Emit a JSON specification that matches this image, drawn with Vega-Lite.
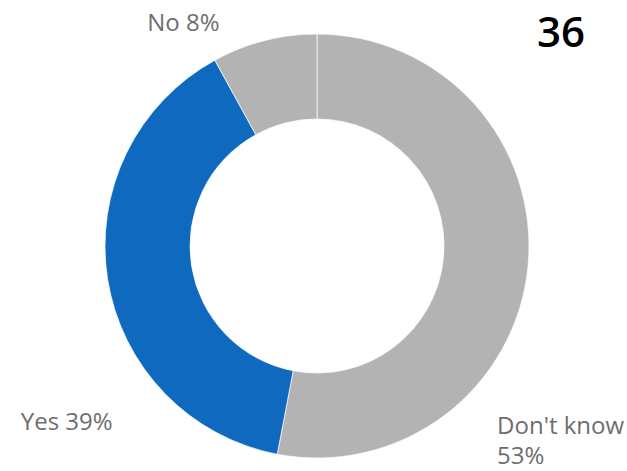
{
  "$schema": "https://vega.github.io/schema/vega-lite/v6.json",
  "width": 620,
  "height": 450,
  "autosize": {"type": "none"},
  "padding": {"left": 7, "top": 21, "right": 0, "bottom": 0},
  "background": "white",
  "title": {
    "text": "36",
    "anchor": "end",
    "frame": "group",
    "font": "Open Sans",
    "fontSize": 42,
    "fontWeight": 600,
    "color": "#000000",
    "baseline": "alphabetic",
    "dx": -42,
    "dy": 77,
    "offset": 0
  },
  "data": {
    "values": [
      {"answer": "Don't know", "pct": 53, "label": "Don't know\n53%", "order": 1},
      {"answer": "Yes", "pct": 39, "label": "Yes 39%", "order": 2},
      {"answer": "No", "pct": 8, "label": "No 8%", "order": 3}
    ]
  },
  "encoding": {
    "theta": {"field": "pct", "type": "quantitative", "stack": true},
    "order": {"field": "order", "type": "quantitative"}
  },
  "layer": [
    {
      "mark": {"type": "arc", "innerRadius": 127, "outerRadius": 212, "stroke": "#ffffff", "strokeWidth": 0.7},
      "encoding": {
        "color": {
          "field": "answer",
          "type": "nominal",
          "scale": {"domain": ["Don't know", "Yes", "No"], "range": ["#b3b3b3", "#0f69be", "#b3b3b3"]},
          "legend": null
        }
      }
    },
    {
      "mark": {"type": "text", "radius": 231, "align": "right", "baseline": "alphabetic", "dx": -40, "dy": 9, "font": "Open Sans", "fontSize": 24, "color": "#6e6e6e"},
      "encoding": {"text": {"condition": {"test": "datum.answer === 'No'", "field": "label"}, "value": ""}}
    },
    {
      "mark": {"type": "text", "radius": 212, "align": "right", "baseline": "alphabetic", "dx": 5, "dy": 151, "font": "Open Sans", "fontSize": 24, "color": "#6e6e6e"},
      "encoding": {"text": {"condition": {"test": "datum.answer === 'Yes'", "field": "label"}, "value": ""}}
    },
    {
      "mark": {"type": "text", "radius": 212, "align": "left", "baseline": "alphabetic", "dx": -31, "dy": 168, "lineBreak": "\n", "lineHeight": 30, "font": "Open Sans", "fontSize": 24, "color": "#6e6e6e"},
      "encoding": {"text": {"condition": {"test": "datum.answer === \"Don't know\"", "field": "label"}, "value": ""}}
    }
  ]
}
